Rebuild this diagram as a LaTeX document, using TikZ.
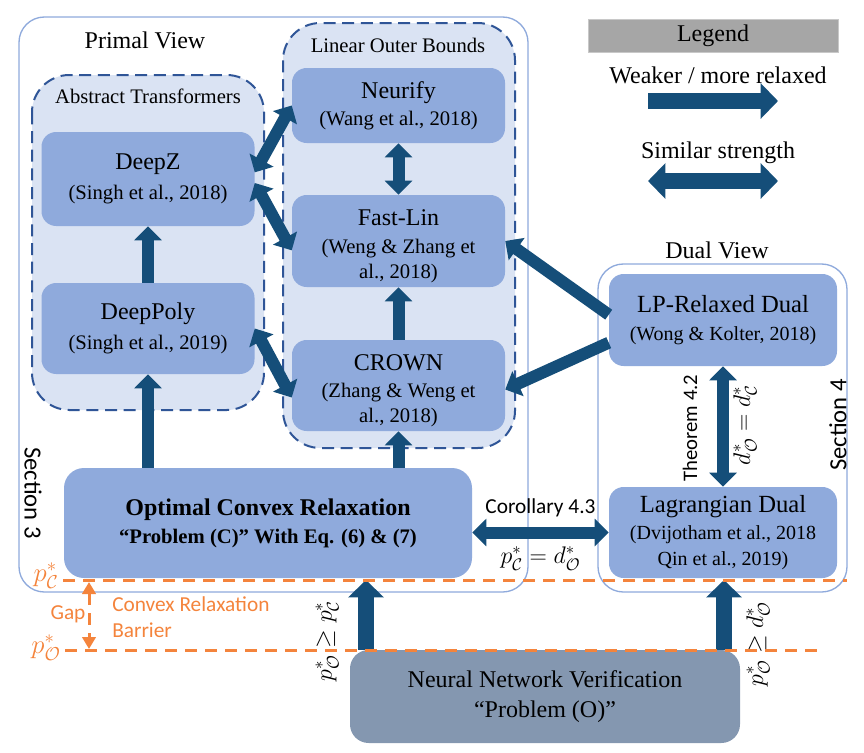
\RequirePackage{fix-cm}
\documentclass[tikz,border=0pt]{standalone}
\usepackage{amsmath,amssymb}
\usepackage{fontspec}
\setmainfont{Liberation Serif}
\newfontfamily\sidefont{Carlito}
\usetikzlibrary{arrows.meta}

\definecolor{viewline}{HTML}{8FAADC}
\definecolor{groupline}{HTML}{2F5597}
\definecolor{groupfill}{HTML}{DAE3F3}
\definecolor{boxfill}{HTML}{8FAADC}
\definecolor{nnvfill}{HTML}{8497B0}
\definecolor{arrowblue}{HTML}{154E79}
\definecolor{barrierorange}{HTML}{F4843C}
\definecolor{legendgray}{HTML}{A6A6A6}
\definecolor{legendedge}{HTML}{C8C8C8}

\begin{document}
\begin{tikzpicture}[x=0.75pt,y=-0.75pt,
  view/.style={draw=viewline,line width=1pt,fill=white,rounded corners=19pt},
  group/.style={draw=groupline,fill=groupfill,line width=1.5pt,dash pattern=on 9pt off 5pt,rounded corners=28pt},
  method/.style={fill=boxfill,rounded corners=11pt,inner sep=0pt,align=center,font=\fontsize{15.5}{19}\selectfont},
  heading/.style={font=\fontsize{18}{20}\selectfont},
  subheading/.style={font=\fontsize{15.5}{18}\selectfont},
  sidelabel/.style={font=\sidefont\fontsize{18.5}{20}\selectfont},
  smalllabel/.style={font=\sidefont\fontsize{15.5}{18}\selectfont},
  mathlabel/.style={font=\fontsize{18}{20}\selectfont},
  link/.style={draw=arrowblue,line width=9pt,>={Triangle[width=20pt,length=10.5pt]}},
  biglink/.style={draw=arrowblue,line width=12.5pt,>={Triangle[width=26pt,length=13pt]}},
  barrier/.style={draw=barrierorange,line width=2.25pt,dash pattern=on 9pt off 6pt},
  gaptext/.style={text=barrierorange,font=\sidefont\fontsize{16}{19}\selectfont}
]

\useasboundingbox (0,0) rectangle (864,753);

\draw[view] (19,17) rectangle (528,592);
\draw[view] (598,264) rectangle (847,592);
\draw[group] (32,75) rectangle (264,410);
\draw[group] (283,23) rectangle (515,448);

\node[heading] (primal) at (145,40) {Primal View};
\node[subheading] (abstract) at (148,96) {Abstract Transformers};
\node[subheading] (linear) at (398,45) {Linear Outer Bounds};
\node[heading] (dualview) at (717,250) {Dual View};

\node[sidelabel,rotate=-90] (sec3) at (33,493) {Section 3};
\node[sidelabel,rotate=90] (sec4) at (838,425) {Section 4};

\node[method,minimum width=159.75pt,minimum height=70.5pt] (deepz) at (148,179)
  {{\fontsize{18}{20}\selectfont DeepZ}\\[3.5pt](Singh et al., 2018)};
\node[method,minimum width=159.75pt,minimum height=68.25pt] (deeppoly) at (148,328.5)
  {{\fontsize{18}{20}\selectfont DeepPoly}\\[3.5pt](Singh et al., 2019)};
\node[method,minimum width=159.75pt,minimum height=56.25pt] (neurify) at (398.5,105.5)
  {{\fontsize{18}{20}\selectfont Neurify}\\[1.5pt](Wang et al., 2018)};
\node[method,minimum width=159.75pt,minimum height=69pt] (fastlin) at (398.5,241)
  {{\fontsize{18}{20}\selectfont\rule{0pt}{20pt}Fast-Lin}\\[1.5pt](Weng \& Zhang et\\al., 2018)};
\node[method,minimum width=159.75pt,minimum height=68.25pt] (crown) at (398.5,385.5)
  {{\fontsize{18}{20}\selectfont\rule{0pt}{20pt}CROWN}\\[1.5pt](Zhang \& Weng et\\al., 2018)};
\node[method,minimum width=171pt,minimum height=69pt] (lpdual) at (723,320)
  {{\fontsize{18.5}{20}\selectfont LP-Relaxed Dual}\\[1.5pt]{\fontsize{15}{19}\selectfont (Wong \& Kolter, 2018)}};
\node[method,minimum width=171pt,minimum height=68.25pt] (lagdual) at (723,532.5)
  {{\fontsize{18.5}{20}\selectfont Lagrangian Dual}\\[1.5pt]{\fontsize{15}{19}\selectfont (Dvijotham et al., 2018}\\{\fontsize{15}{19}\selectfont Qin et al., 2019)}};
\node[method,rounded corners=15pt,minimum width=306pt,minimum height=82.5pt] (ocr) at (268,523)
  {{\bfseries\fontsize{18}{20}\selectfont Optimal Convex Relaxation}\\[2pt]{\bfseries “Problem (C)” With Eq. (6) \& (7)}};
\node[method,fill=nnvfill,rounded corners=14pt,minimum width=292.5pt,minimum height=69.75pt,font=\fontsize{18}{22.5}\selectfont] (nnv) at (545,696.5)
  {Neural Network Verification\\“Problem (O)”};

\node[fill=legendgray,draw=legendedge,inner sep=0pt,minimum width=187.5pt,minimum height=24.75pt,heading] (legend) at (713,35.5) {Legend};
\node[heading] (weaker) at (718,75) {Weaker / more relaxed};
\node[heading] (similar) at (718,153) {Similar strength};
\coordinate (weakerL) at (648,101);
\coordinate (weakerR) at (778,101);
\coordinate (similarL) at (648,181);
\coordinate (similarR) at (778,181);
\draw[biglink,->] (weakerL) -- (weakerR);
\draw[biglink,<->] (similarL) -- (similarR);

\draw[link,->] (deeppoly) -- (deepz);
\draw[link,->] (ocr.north -| deeppoly) -- (deeppoly.south);
\draw[link,->] (ocr.north -| crown) -- (crown.south);
\draw[link,->] (crown) -- (fastlin);
\draw[link,<->] (neurify) -- (fastlin);
\draw[link,<->] ([yshift=5pt]deepz.east) -- (neurify.west);
\draw[link,<->] ([yshift=-3pt]deepz.east) -- ([yshift=-7pt]fastlin.west);
\draw[link,<->] (deeppoly.east) -- ([yshift=-9pt]crown.west);
\draw[link,->] ([yshift=4pt]lpdual.west) -- (fastlin.east);
\draw[link,->] ([yshift=-17pt]lpdual.west) -- ([yshift=-3pt]crown.east);
\draw[link,<->] (lpdual) -- (lagdual);
\draw[link,<->] (ocr.east |- lagdual.west) -- (lagdual.west)
  node[midway,above=4pt,font=\sidefont\fontsize{16}{18}\selectfont] (corollary) {Corollary 4.3}
  node[midway,below=3pt,mathlabel] (corollaryeq) {$p^*_{\mathcal{C}} = d^*_{\mathcal{O}}$};

\node[smalllabel,rotate=90] (theorem) at (690,428) {Theorem 4.2};
\node[mathlabel,rotate=90] (theoremeq) at (745,425) {$d^*_{\mathcal{O}} = d^*_{\mathcal{C}}$};

\coordinate (pCtip) at (366,580);
\coordinate (dOtip) at (724,580);
\draw[biglink,->] (nnv.north -| pCtip) -- (pCtip);
\draw[biglink,->] (nnv.north -| dOtip) -- (dOtip);
\node[mathlabel,rotate=90] (primalgap) at (327,641) {$p^*_{\mathcal{O}} \geq p^*_{\mathcal{C}}$};
\node[mathlabel,rotate=90] (dualgap) at (758,644) {$p^*_{\mathcal{O}} \geq d^*_{\mathcal{O}}$};

\node[text=barrierorange,font=\fontsize{20}{22}\selectfont] (pClab) at (46,576) {$p^*_{\mathcal{C}}$};
\node[text=barrierorange,font=\fontsize{20}{22}\selectfont] (pOlab) at (46,648) {$p^*_{\mathcal{O}}$};
\coordinate (pCend) at (847,580);
\coordinate (pOend) at (820,650);
\draw[barrier] (pClab.east |- pCend) -- (pCend);
\draw[barrier] (pOlab.east |- pOend) -- (pOend);
\coordinate (gapC) at (89,582);
\coordinate (gapO) at (89,649);
\draw[barrier,<->,>={Triangle[width=10pt,length=9pt]}] (gapC) -- (gapO);
\node[gaptext] (gap) at (68,614) {Gap};
\node[gaptext,anchor=west,align=left,inner sep=0pt] (barrierlab) at (112,617) {Convex Relaxation\\Barrier};

\end{tikzpicture}
\end{document}
